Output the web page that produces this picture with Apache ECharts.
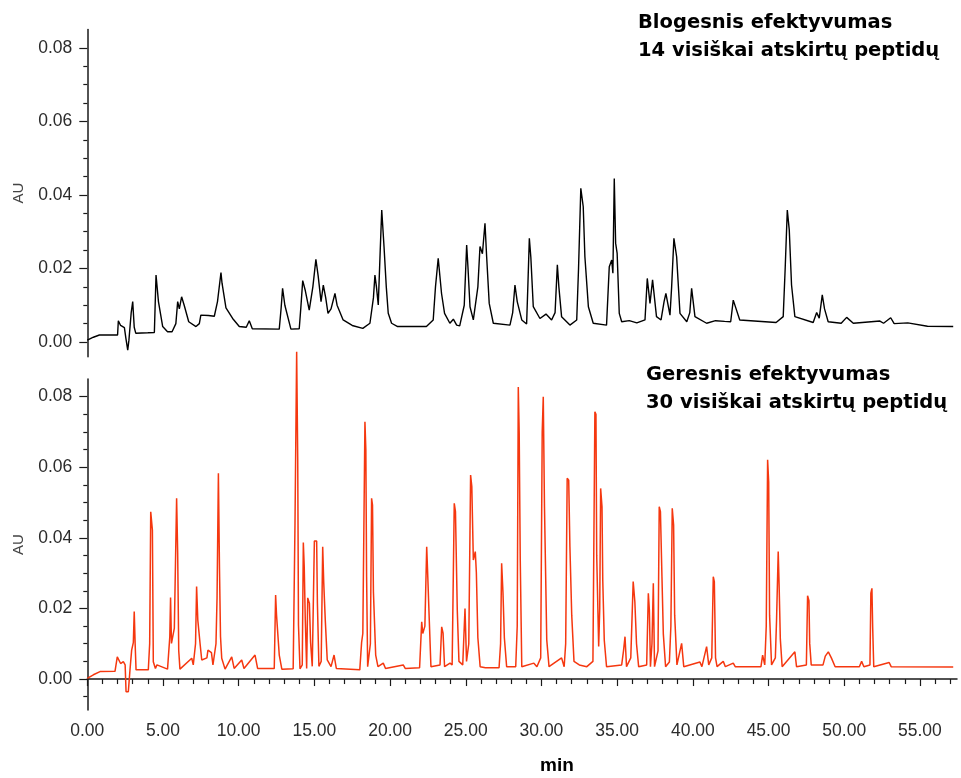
<!DOCTYPE html>
<html><head><meta charset="utf-8">
<script src="https://cdn.jsdelivr.net/npm/echarts@6/dist/echarts.min.js"></script>
<style>html,body{margin:0;padding:0;background:#fff}#c{width:961px;height:778px}</style>
</head><body><div id="c"></div>
<script>
// Upper chromatogram (black) — retention time (min) and absorbance (AU)
const topTimes = [0,0.4,0.8,2.0,2.05,2.2,2.45,2.55,2.67,2.75,2.9,3.0,3.1,3.2,4.0,4.43,4.54,4.7,4.98,5.3,5.6,5.85,5.97,6.08,6.23,6.4,6.7,7.18,7.4,7.5,8.0,8.39,8.6,8.83,8.9,9.16,9.6,10.04,10.5,10.7,10.9,11.0,12.68,12.8,12.9,13.05,13.45,14.0,14.1,14.23,14.4,14.66,14.9,15.1,15.25,15.44,15.59,15.75,15.9,16.1,16.36,16.5,16.9,17.5,18.2,18.67,18.9,19.0,19.1,19.22,19.35,19.45,19.6,19.75,19.88,20.1,20.5,22.4,22.85,23.0,23.18,23.4,23.6,23.95,24.18,24.4,24.6,24.9,25.06,25.15,25.28,25.5,25.8,25.94,26.1,26.27,26.38,26.55,26.82,27.92,28.1,28.25,28.4,28.7,29.02,29.1,29.2,29.3,29.46,29.9,30.3,30.67,30.9,31.05,31.15,31.33,31.88,32.33,32.45,32.6,32.76,32.87,33.1,33.42,34.3,34.48,34.64,34.72,34.81,34.9,35.0,35.14,35.3,35.8,36.3,36.84,36.99,37.17,37.34,37.6,37.9,38.1,38.22,38.49,38.6,38.75,38.93,39.15,39.6,39.8,39.92,40.14,40.91,41.5,42.1,42.5,42.67,43.1,45.5,45.97,46.1,46.24,46.37,46.52,46.74,47.95,48.18,48.35,48.55,48.7,48.94,49.8,50.16,50.6,52.36,52.6,53.07,53.3,54.2,55.5,57.2];
const topValues = [0.0005,0.0013,0.0019,0.0019,0.0058,0.0045,0.0039,0.0010,-0.0022,0.0005,0.0080,0.0110,0.0040,0.0024,0.0025,0.0026,0.0182,0.0110,0.0042,0.0028,0.0028,0.0050,0.0110,0.0090,0.0123,0.0100,0.0055,0.0042,0.0050,0.0073,0.0072,0.0070,0.0110,0.0189,0.0160,0.0093,0.0064,0.0042,0.0040,0.0058,0.0036,0.0035,0.0035,0.0090,0.0146,0.0100,0.0035,0.0036,0.0090,0.0167,0.0140,0.0087,0.0150,0.0225,0.0180,0.0110,0.0155,0.0120,0.0078,0.0090,0.0132,0.0100,0.0060,0.0045,0.0037,0.0051,0.0120,0.0182,0.0150,0.0101,0.0250,0.0359,0.0260,0.0150,0.0078,0.0051,0.0042,0.0042,0.0060,0.0150,0.0228,0.0132,0.0078,0.0051,0.0062,0.0046,0.0044,0.0100,0.0264,0.0200,0.0096,0.0060,0.0150,0.0260,0.0240,0.0323,0.0232,0.0105,0.0051,0.0046,0.0080,0.0155,0.0110,0.0060,0.0049,0.0150,0.0282,0.0230,0.0096,0.0064,0.0076,0.0060,0.0080,0.0210,0.0150,0.0069,0.0046,0.0060,0.0200,0.0418,0.0368,0.0232,0.0096,0.0051,0.0046,0.0205,0.0223,0.0187,0.0445,0.0269,0.0241,0.0078,0.0055,0.0058,0.0052,0.0060,0.0173,0.0105,0.0169,0.0069,0.0060,0.0110,0.0132,0.0073,0.0150,0.0282,0.0232,0.0078,0.0055,0.0080,0.0146,0.0069,0.0051,0.0058,0.0056,0.0055,0.0114,0.0060,0.0053,0.0069,0.0200,0.0359,0.0305,0.0155,0.0069,0.0053,0.0080,0.0065,0.0128,0.0090,0.0055,0.0051,0.0067,0.0051,0.0057,0.0051,0.0066,0.0050,0.0052,0.0043,0.0042];

// Lower chromatogram (red)
const bottomTimes = [0,0.4,0.84,1.83,1.98,2.2,2.38,2.5,2.56,2.71,2.82,2.93,3.04,3.1,3.16,3.22,4.03,4.12,4.19,4.3,4.36,4.5,4.6,5.3,5.45,5.5,5.56,5.75,5.9,5.97,6.04,6.12,6.9,7.0,7.15,7.22,7.3,7.45,7.56,7.9,7.97,8.2,8.3,8.5,8.57,8.66,8.73,8.8,8.88,9.1,9.54,9.7,10.2,10.35,11.08,11.25,12.35,12.44,12.5,12.68,12.85,13.6,13.72,13.83,13.9,13.95,14.05,14.2,14.27,14.33,14.4,14.49,14.56,14.67,14.75,14.86,15.0,15.15,15.2,15.3,15.45,15.55,15.62,15.72,15.85,16.1,16.3,16.45,18.0,18.12,18.2,18.34,18.4,18.45,18.52,18.7,18.78,18.84,18.9,19.05,19.2,19.55,19.7,20.87,21.0,21.95,22.09,22.16,22.3,22.42,22.48,22.59,22.7,23.3,23.41,23.5,23.6,23.96,24.1,24.24,24.32,24.44,24.55,24.8,24.95,25.05,25.2,25.32,25.4,25.5,25.63,25.7,25.8,25.95,26.3,27.2,27.3,27.37,27.46,27.55,27.7,28.3,28.4,28.47,28.53,28.6,28.7,29.5,29.7,29.95,30.05,30.12,30.2,30.35,30.5,31.33,31.5,31.6,31.7,31.8,31.88,32.0,32.15,32.5,33.0,33.4,33.53,33.6,33.65,33.78,33.85,33.91,34.0,34.05,34.15,34.3,35.3,35.42,35.52,35.62,35.9,36.06,36.17,36.28,36.42,36.95,37.06,37.13,37.2,37.3,37.39,37.47,37.7,37.78,37.86,37.96,38.05,38.2,38.45,38.55,38.64,38.73,38.8,38.95,39.26,39.4,40.47,40.6,40.91,41.05,41.25,41.35,41.42,41.5,41.6,42.01,42.15,42.67,42.8,44.5,44.61,44.75,44.85,44.94,45.01,45.07,45.2,45.45,45.53,45.64,45.7,45.78,45.9,46.74,46.85,47.5,47.58,47.67,47.72,47.82,48.6,48.75,48.95,49.15,49.4,51.0,51.15,51.3,51.7,51.76,51.83,51.88,51.95,52.97,53.1,57.2];
const bottomValues = [0.0002,0.0012,0.0021,0.0022,0.0063,0.0044,0.0049,0.0040,-0.0036,-0.0036,0.0026,0.0082,0.0103,0.0191,0.0100,0.0026,0.0026,0.0100,0.0474,0.0422,0.0049,0.0030,0.0040,0.0028,0.0120,0.0231,0.0101,0.0144,0.0512,0.0356,0.0080,0.0028,0.0059,0.0040,0.0100,0.0262,0.0167,0.0100,0.0054,0.0060,0.0082,0.0075,0.0040,0.0100,0.0229,0.0583,0.0318,0.0120,0.0059,0.0028,0.0063,0.0030,0.0054,0.0030,0.0068,0.0030,0.0030,0.0238,0.0181,0.0068,0.0028,0.0029,0.0441,0.0927,0.0621,0.0153,0.0029,0.0040,0.0387,0.0318,0.0167,0.0030,0.0230,0.0215,0.0104,0.0036,0.0391,0.0391,0.0215,0.0036,0.0050,0.0375,0.0271,0.0167,0.0054,0.0035,0.0068,0.0030,0.0026,0.0104,0.0129,0.0729,0.0649,0.0290,0.0035,0.0100,0.0512,0.0493,0.0247,0.0068,0.0035,0.0045,0.0030,0.0040,0.0030,0.0032,0.0162,0.0129,0.0150,0.0375,0.0304,0.0167,0.0035,0.0040,0.0148,0.0130,0.0035,0.0045,0.0040,0.0498,0.0474,0.0195,0.0050,0.0040,0.0200,0.0050,0.0100,0.0578,0.0545,0.0337,0.0361,0.0302,0.0117,0.0035,0.0032,0.0032,0.0100,0.0328,0.0243,0.0117,0.0035,0.0035,0.0150,0.0827,0.0696,0.0337,0.0035,0.0045,0.0035,0.0060,0.0700,0.0800,0.0488,0.0111,0.0035,0.0060,0.0035,0.0100,0.0569,0.0563,0.0375,0.0181,0.0050,0.0040,0.0035,0.0050,0.0757,0.0750,0.0351,0.0092,0.0200,0.0540,0.0488,0.0280,0.0110,0.0035,0.0040,0.0080,0.0120,0.0035,0.0060,0.0276,0.0219,0.0100,0.0035,0.0040,0.0243,0.0195,0.0035,0.0100,0.0271,0.0035,0.0080,0.0488,0.0474,0.0290,0.0128,0.0035,0.0048,0.0150,0.0484,0.0436,0.0181,0.0040,0.0101,0.0035,0.0048,0.0035,0.0092,0.0040,0.0060,0.0290,0.0276,0.0060,0.0035,0.0050,0.0035,0.0045,0.0035,0.0035,0.0068,0.0040,0.0150,0.0621,0.0559,0.0181,0.0040,0.0060,0.0167,0.0361,0.0265,0.0113,0.0035,0.0077,0.0035,0.0040,0.0236,0.0222,0.0101,0.0040,0.0040,0.0065,0.0077,0.0060,0.0035,0.0035,0.0050,0.0035,0.0040,0.0243,0.0257,0.0147,0.0035,0.0047,0.0035,0.0034];

// Axis ticks
const xTickValues = [0,5,10,15,20,25,30,35,40,45,50,55];
const xMinorTickValues = [1,2,3,4,6,7,8,9,11,12,13,14,16,17,18,19,21,22,23,24,26,27,28,29,31,32,33,34,36,37,38,39,41,42,43,44,46,47,48,49,51,52,53,54,56,57];
const yTickValues = [0,0.02,0.04,0.06,0.08];
const yMinorTickValues = [-0.005,0.005,0.01,0.015,0.025,0.03,0.035,0.045,0.05,0.055,0.065,0.07,0.075];

const topLabel = 'Blogesnis efektyvumas\n14 visiškai atskirtų peptidų';
const bottomLabel = 'Geresnis efektyvumas\n30 visiškai atskirtų peptidų';

const topData = topTimes.map((t, i) => [t, topValues[i]]);
const bottomData = bottomTimes.map((t, i) => [t, bottomValues[i]]);

const X_MAX = 57.45;
const TOP_MIN = -0.004, TOP_MAX = 0.085;
const BOT_MIN = -0.0088, BOT_MAX = 0.085;
const axisColor = '#1a1a1a';
const labelFont = {fontFamily: 'Liberation Sans', fontSize: 17.5, color: '#2b2b2b'};

function yMajor(gridIndex, min, max) {
  return {
    type: 'value', gridIndex, min, max, position: 'left',
    axisLine: {show: true, lineStyle: {color: axisColor, width: 1.5}},
    axisTick: {show: true, inside: false, length: 8, lineStyle: {color: axisColor, width: 1.2},
               customValues: yTickValues},
    axisLabel: Object.assign({show: true, margin: 15, customValues: yTickValues,
               formatter: v => v.toFixed(2)}, labelFont),
    splitLine: {show: false},
    name: 'AU', nameLocation: 'middle', nameRotate: 90, nameGap: 61,
    nameTextStyle: {fontFamily: 'Liberation Sans', fontSize: 15, color: '#444'}
  };
}
function yMinor(gridIndex, min, max) {
  return {
    type: 'value', gridIndex, min, max, position: 'left',
    axisLine: {show: false},
    axisTick: {show: true, length: 4, lineStyle: {color: axisColor, width: 1.2},
               customValues: yMinorTickValues.filter(v => v >= min && v <= max)},
    axisLabel: {show: false},
    splitLine: {show: false}
  };
}

const chart = echarts.init(document.getElementById('c'), null, {renderer: 'canvas'});
chart.setOption({
  animation: false,
  backgroundColor: '#ffffff',
  grid: [
    {left: 87.3, top: 29.6, width: 869.7, height: 327.1},
    {left: 87.3, top: 379, width: 869.7, height: 331.1}
  ],
  xAxis: [
    {type: 'value', gridIndex: 0, min: 0, max: X_MAX, show: false},
    {type: 'value', gridIndex: 1, min: 0, max: X_MAX, position: 'bottom',
     axisLine: {show: true, lineStyle: {color: axisColor, width: 1.5}},
     axisTick: {show: true, length: 7, lineStyle: {color: axisColor, width: 1.2}, customValues: xTickValues},
     axisLabel: Object.assign({show: true, margin: 12, customValues: xTickValues,
               formatter: v => v.toFixed(2)}, labelFont),
     splitLine: {show: false}},
    {type: 'value', gridIndex: 1, min: 0, max: X_MAX, position: 'bottom',
     axisLine: {show: false},
     axisTick: {show: true, length: 5, lineStyle: {color: axisColor, width: 1.2}, customValues: xMinorTickValues},
     axisLabel: {show: false}, splitLine: {show: false}}
  ],
  yAxis: [
    yMajor(0, TOP_MIN, TOP_MAX),
    yMinor(0, TOP_MIN, TOP_MAX),
    yMajor(1, BOT_MIN, BOT_MAX),
    yMinor(1, BOT_MIN, BOT_MAX)
  ],
  series: [
    {type: 'line', xAxisIndex: 0, yAxisIndex: 0, data: topData, showSymbol: false,
     lineStyle: {color: '#000000', width: 1.4}, silent: true},
    {type: 'line', xAxisIndex: 1, yAxisIndex: 2, data: bottomData, showSymbol: false, clip: false,
     lineStyle: {color: '#f5370f', width: 1.5}, silent: true}
  ],
  graphic: [
    {type: 'text', left: 638, top: 9, style: {text: topLabel, font: 'bold 19.5px "DejaVu Sans"', fill: '#000', lineHeight: 28}},
    {type: 'text', left: 646, top: 361, style: {text: bottomLabel, font: 'bold 19.5px "DejaVu Sans"', fill: '#000', lineHeight: 28}},
    {type: 'text', left: 540, top: 756, style: {text: 'min', font: 'bold 19px "Liberation Sans"', fill: '#000'}}
  ]
});
</script>
</body></html>
